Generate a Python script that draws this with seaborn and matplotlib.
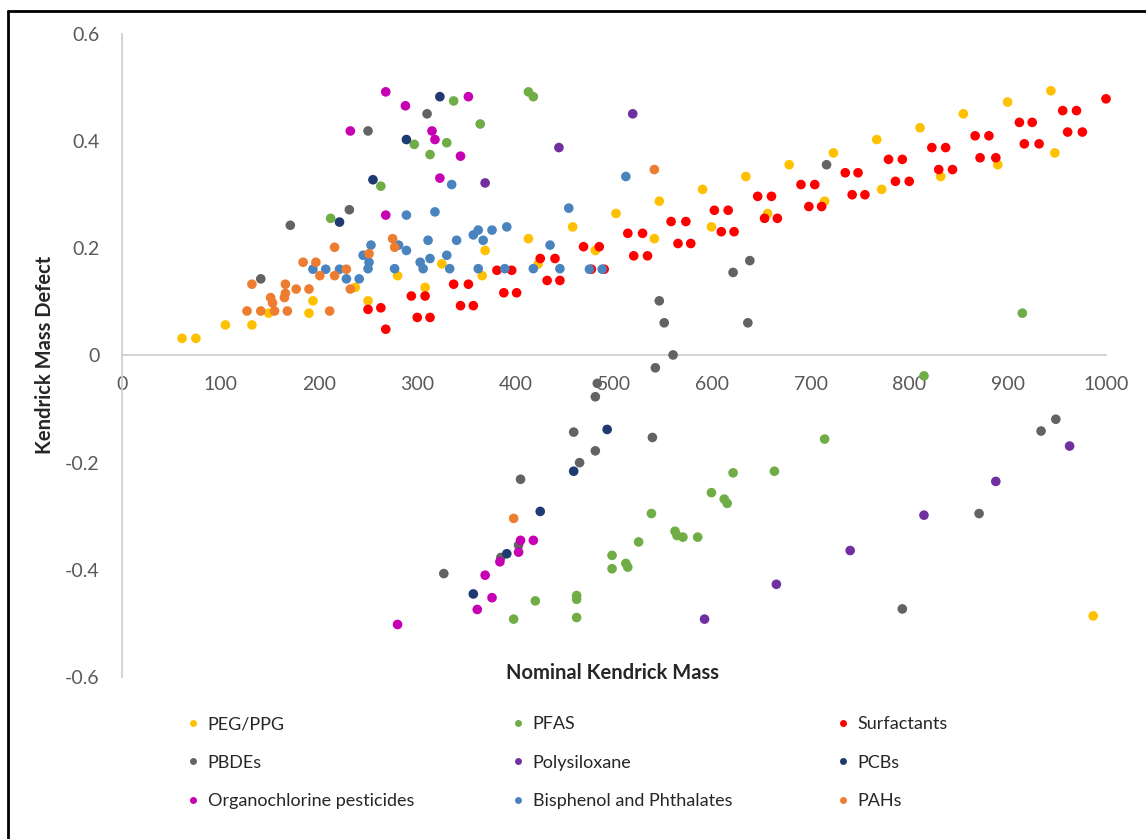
import pandas as pd
import seaborn as sns
import matplotlib.pyplot as plt
from matplotlib.lines import Line2D

# Datos por grupo (masa nominal de Kendrick, defecto de masa)
peg_x = [61, 75, 105, 132, 149, 190, 194, 237, 250, 280, 308, 325, 366, 369, 413, 423,
         458, 481, 502, 541, 546, 590, 599, 634, 656, 678, 714, 723, 767, 772, 811, 832,
         855, 890, 900, 944, 948, 987]
peg_y = [0.032, 0.032, 0.057, 0.057, 0.079, 0.079, 0.102, 0.127, 0.102, 0.149, 0.127, 0.171,
         0.149, 0.196, 0.218, 0.171, 0.240, 0.196, 0.265, 0.218, 0.288, 0.310, 0.240, 0.334,
         0.265, 0.356, 0.288, 0.378, 0.403, 0.310, 0.425, 0.334, 0.451, 0.356, 0.473, 0.494,
         0.378, -0.486]

pfas_x = [212, 263, 297, 313, 330, 337, 364, 413, 418, 915, 815, 714, 663, 621, 599, 612,
          615, 538, 562, 564, 570, 585, 525, 498, 498, 512, 514, 462, 462, 462, 420, 398]
pfas_y = [0.256, 0.316, 0.394, 0.375, 0.397, 0.475, 0.432, 0.492, 0.483, 0.079, -0.038,
          -0.156, -0.216, -0.219, -0.256, -0.268, -0.276, -0.295, -0.328, -0.336, -0.339,
          -0.339, -0.348, -0.373, -0.398, -0.388, -0.395, -0.448, -0.455, -0.489, -0.458,
          -0.492]

surf_x = [250, 263, 268, 294, 308, 300, 313, 337, 352, 344, 357, 381, 396, 388, 401, 425,
          440, 432, 445, 469, 485, 477, 490, 514, 529, 520, 534, 558, 573, 565, 578, 602,
          616, 609, 622, 646, 660, 653, 666, 690, 704, 698, 711, 735, 748, 742, 755, 779,
          793, 786, 800, 823, 837, 830, 844, 867, 881, 872, 888, 912, 925, 917, 932, 956,
          970, 961, 976, 1000]
surf_y = [0.086, 0.089, 0.049, 0.111, 0.111, 0.071, 0.071, 0.133, 0.133, 0.093, 0.093,
          0.159, 0.159, 0.117, 0.117, 0.181, 0.181, 0.140, 0.140, 0.203, 0.203, 0.161, 0.161,
          0.228, 0.228, 0.186, 0.186, 0.250, 0.250, 0.209, 0.209, 0.271, 0.271, 0.231, 0.231,
          0.297, 0.297, 0.256, 0.256, 0.319, 0.319, 0.278, 0.278, 0.341, 0.341, 0.300, 0.300,
          0.366, 0.366, 0.325, 0.325, 0.388, 0.388, 0.347, 0.347, 0.410, 0.410, 0.369, 0.369,
          0.435, 0.435, 0.395, 0.395, 0.457, 0.457, 0.417, 0.417, 0.479]

pbde_x = [141, 171, 231, 250, 310, 546, 551, 560, 542, 621, 638, 636, 716, 483, 481, 459,
          481, 465, 405, 403, 385, 327, 539, 934, 949, 871, 793]
pbde_y = [0.143, 0.243, 0.272, 0.419, 0.451, 0.102, 0.061, 0.001, -0.023, 0.155, 0.177,
          0.061, 0.356, -0.052, -0.077, -0.143, -0.178, -0.200, -0.231, -0.354, -0.377,
          -0.407, -0.153, -0.141, -0.119, -0.295, -0.473]

silox_x = [444, 369, 519, 888, 963, 815, 740, 665, 592]
silox_y = [0.388, 0.322, 0.451, -0.235, -0.169, -0.298, -0.364, -0.427, -0.492]

pcb_x = [221, 255, 289, 323, 459, 493, 425, 391, 357]
pcb_y = [0.249, 0.328, 0.403, 0.483, -0.216, -0.138, -0.291, -0.370, -0.445]

ocp_x = [232, 268, 288, 315, 318, 352, 344, 323, 268, 405, 418, 403, 384, 369, 376, 361, 280]
ocp_y = [0.419, 0.492, 0.466, 0.419, 0.403, 0.483, 0.372, 0.331, 0.262, -0.345, -0.345,
         -0.367, -0.385, -0.410, -0.452, -0.474, -0.502]

bpa_x = [194, 207, 221, 228, 241, 245, 250, 251, 253, 277, 281, 289, 289, 303, 306, 311,
         313, 318, 330, 333, 335, 340, 357, 362, 362, 367, 376, 389, 391, 418, 435, 445,
         454, 475, 488, 512]
bpa_y = [0.161, 0.161, 0.161, 0.143, 0.143, 0.187, 0.162, 0.174, 0.206, 0.162, 0.206, 0.196,
         0.262, 0.174, 0.162, 0.215, 0.181, 0.268, 0.187, 0.162, 0.319, 0.215, 0.225, 0.234,
         0.162, 0.215, 0.234, 0.162, 0.240, 0.162, 0.206, 0.162, 0.275, 0.161, 0.161, 0.334]

pah_x = [127, 132, 141, 151, 153, 155, 165, 166, 166, 168, 177, 184, 190, 197, 201, 211,
         216, 216, 228, 232, 251, 275, 277, 398, 541]
pah_y = [0.083, 0.133, 0.083, 0.108, 0.098, 0.083, 0.108, 0.116, 0.133, 0.083, 0.124, 0.174,
         0.124, 0.174, 0.149, 0.083, 0.202, 0.149, 0.161, 0.124, 0.190, 0.218, 0.202, -0.304,
         0.347]

grupos = ['PEG/PPG', 'PFAS', 'Surfactants', 'PBDEs', 'Polysiloxane', 'PCBs',
          'Organochlorine pesticides', 'Bisphenol and Phthalates', 'PAHs']
colores = ['#FFC000', '#70AD47', '#FF0000', '#636363', '#7030A0', '#1F3A70',
           '#C800B4', '#4A84BE', '#ED7D31']
xticks = [0, 100, 200, 300, 400, 500, 600, 700, 800, 900, 1000]
yticks = [0.6, 0.4, 0.2, 0, -0.2, -0.4, -0.6]
ytick_labels = ['0.6', '0.4', '0.2', '0', '-0.2', '-0.4', '-0.6']

series = [(peg_x, peg_y), (pfas_x, pfas_y), (surf_x, surf_y), (pbde_x, pbde_y),
          (silox_x, silox_y), (pcb_x, pcb_y), (ocp_x, ocp_y), (bpa_x, bpa_y), (pah_x, pah_y)]
df = pd.concat([pd.DataFrame({'Mass': xs, 'Defect': ys, 'Group': g})
                for g, (xs, ys) in zip(grupos, series)], ignore_index=True)

sns.set_style('white')
plt.rcParams['font.family'] = ['Lato', 'DejaVu Sans']

fig = plt.figure(figsize=(11.46, 8.39), dpi=100)
ax = fig.add_axes([0.1065, 0.1931, 0.8586, 0.7664])

sns.scatterplot(data=df, x='Mass', y='Defect', hue='Group', hue_order=grupos,
                palette=dict(zip(grupos, colores)), s=48, edgecolor='none',
                legend=False, ax=ax, clip_on=False, zorder=3)

ax.set_xlim(0, 1000)
ax.set_ylim(-0.6, 0.6)
ax.set_xticks(xticks)
ax.set_xticklabels([str(t) for t in xticks])
ax.set_yticks(yticks)
ax.set_yticklabels(ytick_labels)
ax.set_xlabel('')
ax.set_ylabel('')

for s in ['top', 'right']:
    ax.spines[s].set_visible(False)
ax.spines['bottom'].set_position(('data', 0))
for s in ['bottom', 'left']:
    ax.spines[s].set_color('#D0D0D0')
    ax.spines[s].set_linewidth(1.3)
ax.tick_params(axis='both', length=0, labelsize=14, labelcolor='#595959')
ax.tick_params(axis='x', pad=15)
ax.tick_params(axis='y', pad=16)

fig.text(45 / 1146, 1 - 355 / 839, 'Kendrick Mass Defect', rotation=90,
         ha='center', va='center', fontsize=14.5, fontweight='bold')
fig.text(612 / 1146, 1 - 673 / 839, 'Nominal Kendrick Mass',
         ha='center', va='center', fontsize=14.5, fontweight='bold')

# Leyenda en tres columnas
col_x = [188 / 1146, 513 / 1146, 838 / 1146]
for c in range(3):
    idx = [c, c + 3, c + 6]
    handles = [Line2D([], [], marker='o', linestyle='none', markersize=5,
                      markerfacecolor=colores[i], markeredgecolor='none') for i in idx]
    fig.legend(handles, [grupos[i] for i in idx], loc='upper left',
               bbox_to_anchor=(col_x[c], 1 - 716 / 839), frameon=False,
               fontsize=13, handlelength=0.6, handletextpad=0.5,
               labelspacing=1.25, borderpad=0, borderaxespad=0)

# Marco exterior
fig.add_artist(Line2D([8 / 1146, 1], [1 - 11 / 839, 1 - 11 / 839], color='black', linewidth=2))
fig.add_artist(Line2D([8 / 1146, 8 / 1146], [0, 1 - 11 / 839], color='black', linewidth=2))

fig.savefig('out.png', dpi=100)
